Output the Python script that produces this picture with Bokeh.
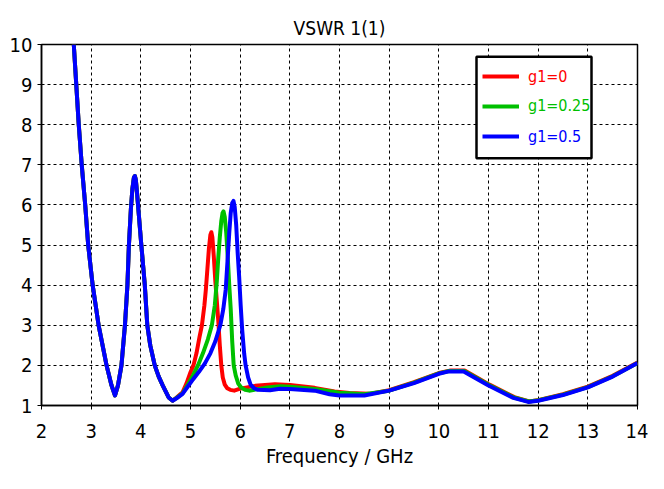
from bokeh.plotting import figure
from bokeh.models import Legend, LegendItem, FixedTicker, BoxAnnotation
from bokeh.embed import file_html
from bokeh.resources import INLINE

# ---- data ----
common_f = [2.65, 2.70, 2.75, 2.81, 2.88, 2.94, 3.03, 3.15, 3.31, 3.41, 3.48, 3.54, 3.61, 3.68,
            3.73, 3.76, 3.80, 3.83, 3.86, 3.88, 3.90, 3.92, 3.95, 4.01, 4.08, 4.13, 4.19, 4.28,
            4.36, 4.44, 4.56, 4.64]
common_v = [10.0, 9.0, 8.0, 7.0, 6.0, 5.0, 4.0, 3.0, 2.0, 1.5, 1.25, 1.5, 2.0, 3.0,
            4.0, 5.0, 5.9, 6.4, 6.68, 6.72, 6.62, 6.35, 5.9, 5.0, 4.0, 3.0, 2.5, 2.0,
            1.72, 1.5, 1.2, 1.12]

red_f = [4.72, 4.84, 4.92, 5.00, 5.06, 5.12, 5.18, 5.23, 5.28, 5.31, 5.34, 5.37, 5.40,
         5.42, 5.44, 5.47, 5.50, 5.53, 5.56, 5.59, 5.62, 5.65, 5.69, 5.74, 5.80, 5.88, 6.00,
         6.30, 6.70, 7.00, 7.50, 7.90, 8.20, 8.60, 9.00, 9.50, 10.00, 10.22, 10.52, 11.02,
         11.52, 11.82, 12.02, 12.50, 13.00, 13.50, 14.00]
red_v = [1.20, 1.33, 1.55, 1.83, 2.00, 2.30, 2.70, 3.00, 3.50, 3.90, 4.40, 4.90, 5.25,
         5.32, 5.20, 4.70, 4.10, 3.60, 3.10, 2.50, 2.00, 1.70, 1.52, 1.43, 1.39, 1.37, 1.42,
         1.49, 1.53, 1.51, 1.44, 1.35, 1.31, 1.29, 1.38, 1.58, 1.81, 1.87, 1.87, 1.52,
         1.21, 1.10, 1.14, 1.28, 1.47, 1.74, 2.07]

green_f = [4.72, 4.84, 4.95, 5.05, 5.15, 5.25, 5.35, 5.43, 5.49, 5.53, 5.56, 5.59, 5.62,
           5.645, 5.665, 5.69, 5.72, 5.75, 5.78, 5.81, 5.84, 5.87, 5.91, 5.96, 6.02, 6.10, 6.18,
           6.50, 6.80, 7.00, 7.50, 8.00, 8.50, 9.00, 9.50, 10.00, 10.21, 10.51, 11.01, 11.51,
           11.81, 12.01, 12.50, 13.00, 13.50, 14.00]
green_v = [1.19, 1.30, 1.53, 1.75, 2.00, 2.30, 2.65, 3.00, 3.50, 4.10, 4.70, 5.20, 5.60,
           5.80, 5.84, 5.70, 5.30, 4.70, 4.00, 3.40, 2.60, 2.00, 1.75, 1.55, 1.45, 1.39, 1.37,
           1.44, 1.48, 1.47, 1.41, 1.32, 1.28, 1.37, 1.57, 1.80, 1.86, 1.86, 1.51, 1.20,
           1.10, 1.13, 1.27, 1.46, 1.73, 2.06]

blue_f = [4.72, 4.84, 4.95, 5.05, 5.17, 5.29, 5.40, 5.50, 5.60, 5.66, 5.71, 5.745, 5.78,
          5.81, 5.84, 5.865, 5.89, 5.92, 5.95, 5.98, 6.01, 6.04, 6.08, 6.11, 6.16, 6.21,
          6.28, 6.36, 6.60, 6.80, 7.00, 7.50, 7.80, 8.00, 8.50, 9.00, 9.50, 10.00, 10.20,
          10.50, 11.00, 11.50, 11.80, 12.00, 12.50, 13.00, 13.50, 14.00]
blue_v = [1.18, 1.29, 1.48, 1.65, 1.84, 2.05, 2.30, 2.60, 3.00, 3.40, 3.90, 4.60, 5.30,
          5.80, 6.05, 6.10, 5.95, 5.50, 4.80, 4.20, 3.50, 2.90, 2.30, 2.00, 1.70, 1.52,
          1.43, 1.39, 1.38, 1.42, 1.41, 1.37, 1.28, 1.25, 1.25, 1.37, 1.56, 1.79, 1.85,
          1.85, 1.50, 1.19, 1.09, 1.12, 1.26, 1.45, 1.72, 2.06]

labels = ["g1=0", "g1=0.25", "g1=0.5"]
colors = ["#ff0000", "#00c000", "#0000ff"]
x_ticks = list(range(2, 15))
y_ticks = list(range(1, 11))

FONT = "DejaVu Sans Condensed"

p = figure(width=648, height=473, x_range=(2, 14), y_range=(1, 10),
           output_backend="svg", toolbar_location=None,
           min_border_left=41, min_border_right=11, min_border_top=44, min_border_bottom=68)

p.title.text = "VSWR 1(1)"
p.title.align = "center"
p.title.text_font = FONT
p.title.text_font_size = "19px"
p.title.text_font_style = "normal"
p.title.text_color = "black"
p.title.standoff = 11

series = [(common_f + red_f, common_v + red_v),
          (common_f + green_f, common_v + green_v),
          (common_f + blue_f, common_v + blue_v)]
renderers = []
for (xs, ys), c in zip(series, colors):
    renderers.append(p.line(xs, ys, line_color=c, line_width=4, line_join="round"))

for ax in (p.xaxis[0], p.yaxis[0]):
    ax.major_label_text_font = FONT
    ax.major_label_text_font_size = "20px"
    ax.major_label_text_color = "black"
    ax.major_tick_in = 0
    ax.major_tick_out = 4
    ax.minor_tick_line_color = None
    ax.axis_line_color = "black"
    ax.axis_line_width = 1.5
    ax.major_tick_line_color = "black"

p.xaxis.ticker = FixedTicker(ticks=x_ticks)
p.yaxis.ticker = FixedTicker(ticks=y_ticks)
p.xaxis.axis_label = "Frequency / GHz"
p.xaxis.axis_label_text_font = FONT
p.xaxis.axis_label_text_font_size = "20px"
p.xaxis.axis_label_text_font_style = "normal"
p.xaxis.axis_label_text_color = "black"
p.xaxis.axis_label_standoff = 3
p.xaxis.major_label_standoff = 14
p.yaxis.major_label_standoff = 5

p.grid.grid_line_color = "black"
p.grid.grid_line_dash = "3 3"
p.grid.grid_line_alpha = 1.0
p.outline_line_color = "black"
p.outline_line_width = 1.5

box = BoxAnnotation(left=435, right=550, top=348.8, bottom=247.3,
                    left_units="screen", right_units="screen",
                    top_units="screen", bottom_units="screen",
                    fill_color="white", fill_alpha=1.0,
                    line_color="black", line_alpha=1.0, line_width=2.5)
p.add_layout(box)

row_offsets = [319, 289.4, 258.7]
for lab, c, r, yoff in zip(labels, colors, renderers, row_offsets):
    leg = Legend(items=[LegendItem(label=lab, renderers=[r])],
                 location=(441, yoff), margin=0, padding=0,
                 glyph_width=37, glyph_height=20, label_height=20,
                 label_standoff=9, label_text_font=FONT, label_text_font_size="16px",
                 label_text_color=c, border_line_alpha=0, background_fill_alpha=0)
    p.add_layout(leg, "center")

open("out.html", "w").write(file_html(p, INLINE))
